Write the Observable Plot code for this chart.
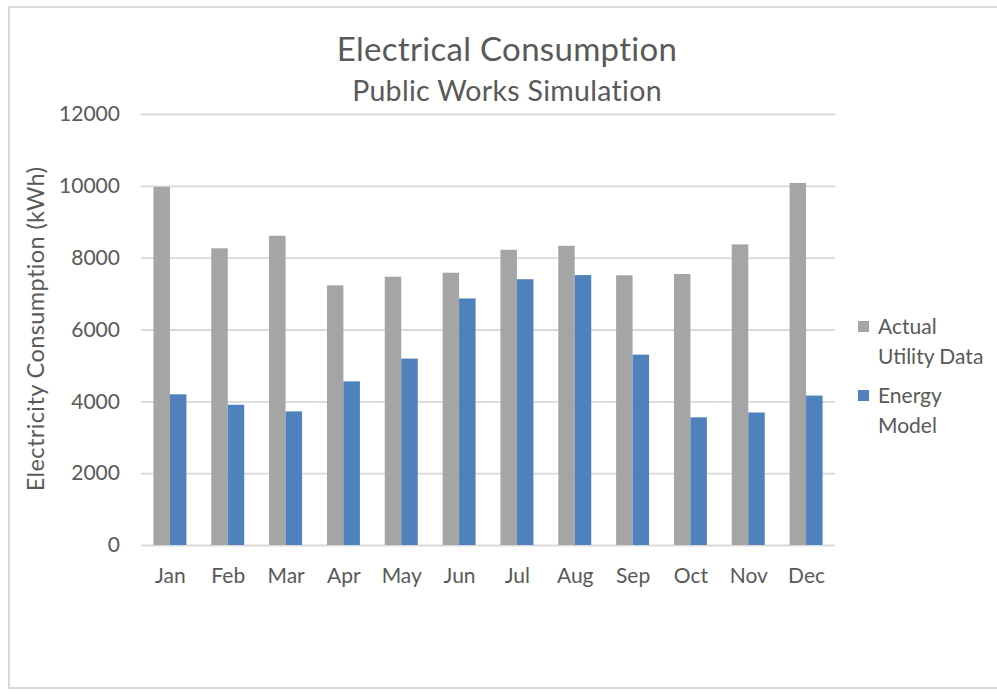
<!DOCTYPE html>
<html>
<head>
<meta charset="utf-8">
<script src="https://cdn.jsdelivr.net/npm/d3@7"></script>
<script src="https://cdn.jsdelivr.net/npm/@observablehq/plot@0.6"></script>
<style>
  html, body { margin: 0; padding: 0; background: #fff; }
  #wrap { position: relative; width: 997px; height: 694px; overflow: hidden; font-family: Lato, "Open Sans", sans-serif; color: #595959; }
  #border { position: absolute; left: 8px; top: 6px; width: 1010px; height: 683px; border: 2px solid #d9d9d9; box-sizing: border-box; }
  #chart { position: absolute; left: 0; top: 0; }
  .title { position: absolute; left: 0; width: 1014px; text-align: center; line-height: 1; white-space: nowrap; letter-spacing: 0.3px; }
  #ylabel { position: absolute; left: 36px; top: 329px; transform: translate(-50%, -50%) rotate(-90deg); font-size: 23.5px; letter-spacing: 0.4px; white-space: nowrap; line-height: 1; }
  .leg { position: absolute; left: 858px; font-size: 21px; line-height: 30px; }
  .leg .sw { position: absolute; left: 0; top: 10px; width: 11px; height: 11px; }
  .leg .tx { position: absolute; left: 20px; top: 0; width: 130px; white-space: pre-line; }
</style>
</head>
<body>
<div id="wrap">
  <div id="border"></div>
  <div id="chart"></div>
</div>
<script>
const months = ["Jan", "Feb", "Mar", "Apr", "May", "Jun", "Jul", "Aug", "Sep", "Oct", "Nov", "Dec"];
const actualUtility = [9970, 8260, 8610, 7230, 7470, 7580, 8220, 8330, 7510, 7545, 8370, 10080];
const energyModel = [4195, 3905, 3720, 4555, 5190, 6865, 7400, 7515, 5300, 3555, 3690, 4160];
const seriesNames = ["Actual Utility Data", "Energy Model"];
const seriesColors = ["#a5a5a5", "#4f81bd"];
const yTicks = [0, 2000, 4000, 6000, 8000, 10000, 12000];
const titleText = "Electrical Consumption";
const subtitleText = "Public Works Simulation";
const yLabelText = "Electricity Consumption (kWh)";

const rows = months.flatMap((m, i) => [
  {month: m, series: seriesNames[0], value: actualUtility[i]},
  {month: m, series: seriesNames[1], value: energyModel[i]}
]);

const chart = Plot.plot({
  width: 997,
  height: 694,
  marginTop: 114,
  marginBottom: 149,
  marginLeft: 141,
  marginRight: 162,
  style: {fontFamily: "Lato, 'Open Sans', sans-serif", fontSize: "21px", color: "#595959", background: "transparent", overflow: "visible"},
  fx: {domain: months, axis: "bottom", round: false, paddingInner: 0.43, paddingOuter: 0.215, label: null, tickSize: 0, tickPadding: 23},
  x: {domain: seriesNames, axis: null, padding: 0, round: false},
  y: {domain: [0, 12000], axis: "left", ticks: yTicks, tickSize: 0, tickPadding: 34, label: null, tickFormat: d => String(d)},
  color: {domain: seriesNames, range: seriesColors},
  marks: [
    Plot.ruleY(yTicks, {stroke: "#d9d9d9", strokeWidth: 1.8, insetLeft: -12.6, insetRight: -12.6}),
    Plot.barY(rows, {fx: "month", x: "series", y: "value", fill: "series"})
  ]
});
document.getElementById("chart").appendChild(chart);

const wrap = document.getElementById("wrap");
function addDiv(cls, id, text, css) {
  const d = document.createElement("div");
  if (cls) d.className = cls;
  if (id) d.id = id;
  d.textContent = text;
  Object.assign(d.style, css || {});
  wrap.appendChild(d);
  return d;
}
addDiv("title", null, titleText, {top: "32px", fontSize: "33px"});
addDiv("title", null, subtitleText, {top: "76px", fontSize: "28.5px"});
addDiv(null, "ylabel", yLabelText);

const legendTops = [311, 380];
seriesNames.forEach((name, i) => {
  const g = document.createElement("div");
  g.className = "leg";
  g.style.top = legendTops[i] + "px";
  const sw = document.createElement("div");
  sw.className = "sw";
  sw.style.background = seriesColors[i];
  const tx = document.createElement("div");
  tx.className = "tx";
  tx.textContent = name.replace(" ", "\n");
  g.appendChild(sw);
  g.appendChild(tx);
  wrap.appendChild(g);
});
</script>
</body>
</html>
